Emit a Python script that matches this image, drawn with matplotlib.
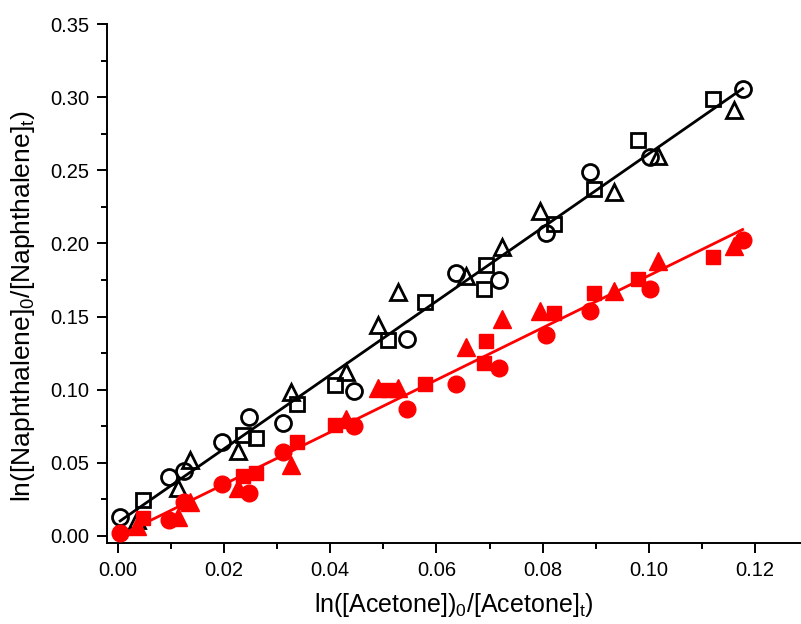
import matplotlib
matplotlib.use("Agg")
import matplotlib.pyplot as plt
import numpy as np

plt.rcParams['font.family'] = ['Liberation Sans', 'DejaVu Sans']
plt.rcParams['mathtext.fontset'] = 'custom'
plt.rcParams['mathtext.rm'] = 'Liberation Sans'
plt.rcParams['mathtext.it'] = 'Liberation Sans:italic'

# circles (black open / red filled share x)
x_circ = [0.0004, 0.0096, 0.0125, 0.0196, 0.0247, 0.0311, 0.0445, 0.0545,
          0.0636, 0.0717, 0.0806, 0.0889, 0.1002, 0.1177]
y_circ_k = [0.013, 0.040, 0.0445, 0.0645, 0.081, 0.0775, 0.099, 0.135,
            0.180, 0.175, 0.207, 0.2485, 0.259, 0.3055]
y_circ_r = [0.002, 0.011, 0.023, 0.0355, 0.0295, 0.0575, 0.0753, 0.087,
            0.104, 0.115, 0.1375, 0.1535, 0.169, 0.202]

# squares
x_sq = [0.0047, 0.0236, 0.0260, 0.0338, 0.0409, 0.0509, 0.0578, 0.0690,
        0.0693, 0.0822, 0.0897, 0.0980, 0.1121]
y_sq_k = [0.0247, 0.069, 0.067, 0.090, 0.1035, 0.134, 0.160, 0.1685,
          0.1855, 0.213, 0.2375, 0.2705, 0.299]
y_sq_r = [0.0125, 0.041, 0.043, 0.0645, 0.076, 0.100, 0.104, 0.1185,
          0.133, 0.1527, 0.1662, 0.176, 0.1905]

# triangles
x_tri = [0.0035, 0.0113, 0.0136, 0.0226, 0.0326, 0.0430, 0.0489, 0.0528,
         0.0655, 0.0723, 0.0796, 0.0934, 0.1017, 0.1160]
y_tri_k = [0.011, 0.033, 0.052, 0.058, 0.0985, 0.112, 0.1445, 0.1665,
           0.1775, 0.1975, 0.2225, 0.235, 0.2595, 0.291]
y_tri_r = [0.007, 0.013, 0.023, 0.033, 0.0485, 0.080, 0.1015, 0.1015,
           0.1295, 0.148, 0.1535, 0.1678, 0.1877, 0.198]


def fit_line(ax, xs, ys, color):
    xs = np.asarray(xs)
    ys = np.asarray(ys)
    slope, icpt = np.polyfit(xs, ys, 1)
    xx = np.array([xs.min(), xs.max()])
    ax.plot(xx, slope * xx + icpt, color=color, lw=2.0, zorder=3)


def main():
    fig = plt.figure(figsize=(8.01, 6.24), dpi=100)
    ax = fig.add_axes([107 / 801, 1 - 543 / 624, 694 / 801, 519 / 624])

    ms = 11.5
    mew = 2.0
    # black open
    ax.plot(x_circ, y_circ_k, 'o', ms=ms, mfc='none', mec='k', mew=mew, zorder=2)
    ax.plot(x_sq, y_sq_k, 's', ms=ms - 1.5, mfc='none', mec='k', mew=mew, zorder=2)
    ax.plot(x_tri, y_tri_k, '^', ms=ms + 0.5, mfc='none', mec='k', mew=mew, zorder=2)
    fit_line(ax, x_circ + x_sq + x_tri, y_circ_k + y_sq_k + y_tri_k, 'k')

    # red filled
    ax.plot(x_circ, y_circ_r, 'o', ms=ms + 0.5, color='#ff0000', mec='#ff0000', zorder=4)
    ax.plot(x_sq, y_sq_r, 's', ms=ms - 1, color='#ff0000', mec='#ff0000', zorder=4)
    ax.plot(x_tri, y_tri_r, '^', ms=ms + 1, color='#ff0000', mec='#ff0000', zorder=4)
    fit_line(ax, x_circ + x_sq + x_tri, y_circ_r + y_sq_r + y_tri_r, '#ff0000')

    ax.set_xlim(-0.00208, 0.1287)
    ax.set_ylim(-0.0048, 0.35)
    ax.spines['top'].set_visible(False)
    ax.spines['right'].set_visible(False)
    for s in ('left', 'bottom'):
        ax.spines[s].set_linewidth(1.4)

    ax.set_xticks(np.arange(0, 0.121, 0.02))
    ax.set_xticks(np.arange(0.01, 0.121, 0.02), minor=True)
    ax.set_yticks(np.arange(0, 0.351, 0.05))
    ax.set_yticks(np.arange(0.025, 0.35, 0.05), minor=True)
    ax.set_xticklabels([f"{v:.2f}" for v in np.arange(0, 0.121, 0.02)])
    ax.set_yticklabels([f"{v:.2f}" for v in np.arange(0, 0.351, 0.05)])
    ax.tick_params(which='major', direction='out', length=7, width=1.4,
                   labelsize=14.5, pad=6)
    ax.tick_params(which='minor', direction='out', length=4, width=1.4)

    ax.set_xlabel(r'ln([Acetone])$_{\mathrm{0}}$/[Acetone]$_{\mathrm{t}}$)',
                  fontsize=18, labelpad=8)
    ax.set_ylabel(r'ln([Naphthalene]$_{\mathrm{0}}$/[Naphthalene]$_{\mathrm{t}}$)',
                  fontsize=19)
    ax.yaxis.set_label_coords(-0.101, 0.457)

    fig.savefig("out.png", dpi=100)


main()
